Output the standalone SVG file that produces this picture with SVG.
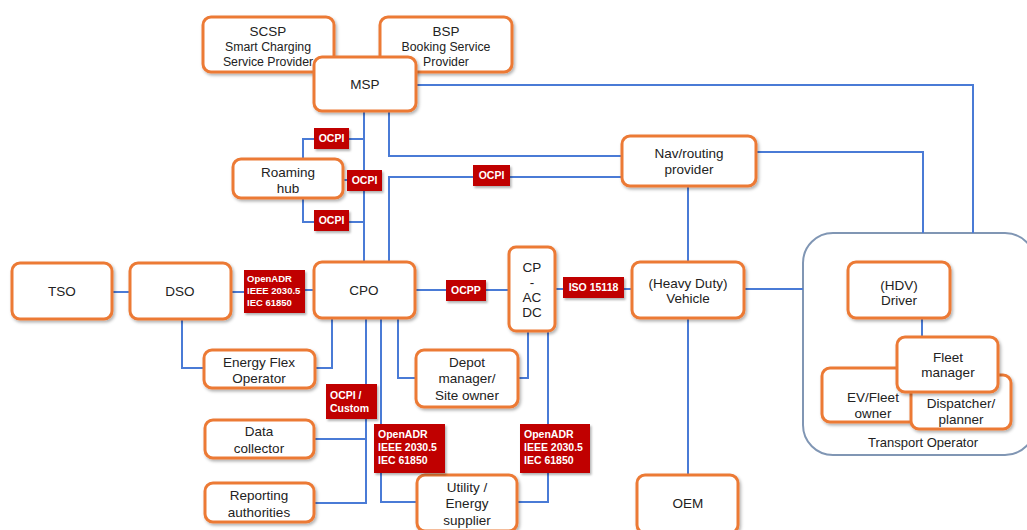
<svg xmlns="http://www.w3.org/2000/svg" width="1027" height="530" viewBox="0 0 1027 530">
<style>
.n{fill:#fff;stroke:#ec7a36;stroke-width:3;filter:url(#sh)}
.t{font-family:"Liberation Sans",Arial,sans-serif;font-size:13.5px;fill:#222;text-anchor:middle}
.s{font-size:12.3px}
.c{fill:none;stroke:#4a7bd6;stroke-width:2}
.r{fill:#c00000;filter:url(#sh2)}
.rt{font-family:"Liberation Sans",Arial,sans-serif;font-size:10.5px;font-weight:bold;fill:#fff}
.m{text-anchor:middle}
</style>
<defs>
<filter id="sh" x="-20%" y="-20%" width="140%" height="150%"><feDropShadow dx="1.5" dy="2" stdDeviation="1.5" flood-color="#000" flood-opacity="0.3"/></filter>
<filter id="sh2" x="-20%" y="-20%" width="140%" height="150%"><feDropShadow dx="1.5" dy="2" stdDeviation="1.2" flood-color="#000" flood-opacity="0.3"/></filter>
</defs>
<rect width="1027" height="530" fill="#fff"/>
<g id="transport-operator">
<rect x="803" y="233" width="232" height="222" rx="30" fill="#fff" stroke="#8096b4" stroke-width="2"/>
<text class="t" x="923" y="447" style="font-size:13px">Transport Operator</text>
</g>
<g id="connectors">
<path class="c" d="M416 85H973V233"/>
<path class="c" d="M756 152H923V233"/>
<path class="c" d="M688 186V262M688 318V475"/>
<path class="c" d="M744 289H803"/>
<path class="c" d="M364 111V262"/>
<path class="c" d="M389 111V156H622"/>
<path class="c" d="M389 262V177H622"/>
<path class="c" d="M303 159V139H364M303 198V222H364M343 180H364"/>
<path class="c" d="M112 292H130M231 292H244M305 290H314"/>
<path class="c" d="M182 319V368H204"/>
<path class="c" d="M315 368H332V318"/>
<path class="c" d="M415 290H509"/>
<path class="c" d="M555 289H632"/>
<path class="c" d="M398 318V378H416"/>
<path class="c" d="M366 318V503H314M366 439H314"/>
<path class="c" d="M381 318V502H417"/>
<path class="c" d="M528 331V378H518"/>
<path class="c" d="M548 331V502H517"/>
<path class="c" d="M922 318V337"/>
</g>
<g id="scsp"><rect class="n" x="203" y="17" width="131" height="55" rx="8"/><text class="t" x="268" y="36">SCSP</text><text class="t s" x="268" y="51">Smart Charging</text><text class="t s" x="268" y="66">Service Provider</text></g>
<g id="bsp"><rect class="n" x="380" y="17" width="132" height="55" rx="8"/><text class="t" x="446" y="36">BSP</text><text class="t s" x="446" y="51">Booking Service</text><text class="t s" x="446" y="66">Provider</text></g>
<g id="msp"><rect class="n" x="314" y="57" width="102" height="54" rx="8"/><text class="t" x="365" y="89">MSP</text></g>
<g id="roaming-hub"><rect class="n" x="233" y="159" width="110" height="39" rx="8"/><text class="t" x="288" y="177">Roaming</text><text class="t" x="288" y="193">hub</text></g>
<g id="nav"><rect class="n" x="622" y="136" width="134" height="50" rx="8"/><text class="t" x="689" y="158">Nav/routing</text><text class="t" x="689" y="174">provider</text></g>
<g id="tso"><rect class="n" x="12" y="263" width="100" height="56" rx="8"/><text class="t" x="62" y="296">TSO</text></g>
<g id="dso"><rect class="n" x="130" y="263" width="101" height="56" rx="8"/><text class="t" x="180" y="296">DSO</text></g>
<g id="cpo"><rect class="n" x="314" y="262" width="101" height="56" rx="8"/><text class="t" x="364" y="295">CPO</text></g>
<g id="cp"><rect class="n" x="509" y="247" width="46" height="84" rx="7"/><text class="t" x="532" y="272">CP</text><text class="t" x="532" y="287">-</text><text class="t" x="532" y="302">AC</text><text class="t" x="532" y="317">DC</text></g>
<g id="vehicle"><rect class="n" x="632" y="262" width="112" height="56" rx="8"/><text class="t" x="688" y="288">(Heavy Duty)</text><text class="t" x="688" y="303">Vehicle</text></g>
<g id="efo"><rect class="n" x="204" y="350" width="111" height="38" rx="8"/><text class="t" x="259" y="367">Energy Flex</text><text class="t" x="259" y="383">Operator</text></g>
<g id="depot"><rect class="n" x="416" y="350" width="102" height="57" rx="8"/><text class="t" x="467" y="367">Depot</text><text class="t" x="467" y="383">manager/</text><text class="t" x="467" y="400">Site owner</text></g>
<g id="data-collector"><rect class="n" x="205" y="420" width="109" height="38" rx="8"/><text class="t" x="259" y="436">Data</text><text class="t" x="259" y="453">collector</text></g>
<g id="reporting"><rect class="n" x="205" y="483" width="109" height="39" rx="8"/><text class="t" x="259" y="500">Reporting</text><text class="t" x="259" y="517">authorities</text></g>
<g id="utility"><rect class="n" x="417" y="475" width="100" height="56" rx="8"/><text class="t" x="467" y="492">Utility /</text><text class="t" x="467" y="508">Energy</text><text class="t" x="467" y="525">supplier</text></g>
<g id="oem"><rect class="n" x="637" y="475" width="101" height="58" rx="8"/><text class="t" x="688" y="508">OEM</text></g>
<g id="driver"><rect class="n" x="848" y="262" width="102" height="56" rx="8"/><text class="t" x="899" y="290">(HDV)</text><text class="t" x="899" y="305">Driver</text></g>
<g id="ev-owner"><rect class="n" x="822" y="368" width="100" height="54" rx="8"/><text class="t" x="873" y="402">EV/Fleet</text><text class="t" x="873" y="418">owner</text></g>
<g id="dispatcher"><rect class="n" x="911" y="375" width="100" height="54" rx="8"/><text class="t" x="961" y="408">Dispatcher/</text><text class="t" x="961" y="424">planner</text></g>
<g id="fleet-manager"><rect class="n" x="897" y="337" width="101" height="55" rx="8"/><text class="t" x="948" y="362">Fleet</text><text class="t" x="948" y="377">manager</text></g>
<g id="labels">
<rect class="r" x="314" y="128" width="35" height="21"/><text class="rt m" x="331.5" y="142">OCPI</text>
<rect class="r" x="347" y="170" width="35" height="21"/><text class="rt m" x="364.5" y="184">OCPI</text>
<rect class="r" x="314" y="210" width="35" height="21"/><text class="rt m" x="331.5" y="224">OCPI</text>
<rect class="r" x="473" y="165" width="37" height="21"/><text class="rt m" x="491.5" y="179">OCPI</text>
<rect class="r" x="244" y="270" width="61" height="43"/><text class="rt" x="247" y="282" style="font-size:9.5px">OpenADR</text><text class="rt" x="247" y="294" style="font-size:9.5px">IEEE 2030.5</text><text class="rt" x="247" y="306" style="font-size:9.5px">IEC 61850</text>
<rect class="r" x="446" y="280" width="40" height="21"/><text class="rt m" x="466" y="294">OCPP</text>
<rect class="r" x="563" y="277" width="61" height="21"/><text class="rt m" x="593.5" y="291">ISO 15118</text>
<rect class="r" x="326" y="384" width="51" height="35"/><text class="rt" x="330" y="399">OCPI /</text><text class="rt" x="330" y="412">Custom</text>
<rect class="r" x="374" y="424" width="71" height="49"/><text class="rt" x="378" y="438">OpenADR</text><text class="rt" x="378" y="451">IEEE 2030.5</text><text class="rt" x="378" y="464">IEC 61850</text>
<rect class="r" x="520" y="424" width="70" height="49"/><text class="rt" x="524" y="438">OpenADR</text><text class="rt" x="524" y="451">IEEE 2030.5</text><text class="rt" x="524" y="464">IEC 61850</text>
</g>
</svg>
